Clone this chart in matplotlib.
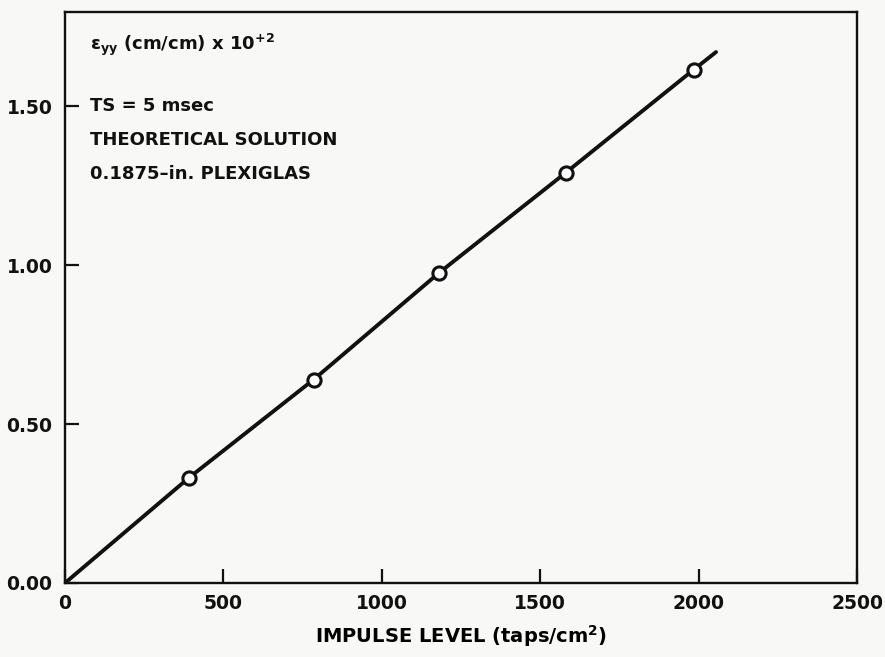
import matplotlib
matplotlib.use('Agg')
import matplotlib.pyplot as plt

# ── data ──────────────────────────────────────────────────────────────────────

impulse = [390, 785, 1180, 1580, 1985]          # taps/cm^2
strain = [0.33, 0.64, 0.975, 1.29, 1.615]       # eps_yy x 10^2
line_x = [0, 390, 785, 1180, 1580, 1985, 2055]
line_y = [0, 0.33, 0.64, 0.975, 1.29, 1.615, 1.67]

x_ticks = [0, 500, 1000, 1500, 2000, 2500]
y_ticks = [0.0, 0.5, 1.0, 1.5]
y_tick_labels = ['0.00', '0.50', '1.00', '1.50']

notes = [
    r'$\epsilon_{\mathbf{yy}}$ (cm/cm) x 10$^{\mathbf{+2}}$',
    'TS = 5 msec',
    'THEORETICAL SOLUTION',
    '0.1875\u2013in. PLEXIGLAS',
]

# ── style ─────────────────────────────────────────────────────────────────────

BG = '#f8f8f6'
INK = '#111111'

plt.rcParams.update({
    'font.family': ['DejaVu Sans'],
    'font.weight': 'bold',
    'mathtext.fontset': 'custom',
    'mathtext.rm': 'DejaVu Sans:bold',
    'mathtext.bf': 'DejaVu Sans:bold',
    'mathtext.it': 'DejaVu Sans:bold',
})

fig = plt.figure(figsize=(8.85, 6.57), dpi=100, facecolor=BG)
ax = fig.add_axes([65 / 885, 74 / 657, 792 / 885, 571 / 657], facecolor=BG)

ax.plot(line_x, line_y, color=INK, lw=2.8, solid_capstyle='round', zorder=2)
ax.plot(impulse, strain, 'o', ms=9.5, mfc='white', mec=INK, mew=2.2, zorder=3)

ax.set_xlim(0, 2500)
ax.set_ylim(0, 1.796)
ax.set_xticks(x_ticks)
ax.set_xticklabels([str(v) for v in x_ticks])
ax.set_yticks(y_ticks)
ax.set_yticklabels(y_tick_labels)

for s in ax.spines.values():
    s.set_linewidth(1.7)
    s.set_color(INK)

ax.tick_params(direction='in', length=10, width=1.6, colors=INK,
               labelsize=13.5, top=False, right=False)
ax.tick_params(axis='x', pad=8)
ax.tick_params(axis='y', pad=9)
for lab in ax.get_xticklabels() + ax.get_yticklabels():
    lab.set_fontweight('bold')

ax.set_xlabel(r'IMPULSE LEVEL (taps/cm$^{\mathbf{2}}$)', fontsize=14,
              fontweight='bold', labelpad=7)

ys = [0.943, 0.835, 0.775, 0.717]
for txt, yy in zip(notes, ys):
    ax.text(0.032, yy, txt, transform=ax.transAxes, fontsize=13,
            fontweight='bold', color=INK, va='center', ha='left')

fig.savefig('out.png', dpi=100, facecolor=BG)
